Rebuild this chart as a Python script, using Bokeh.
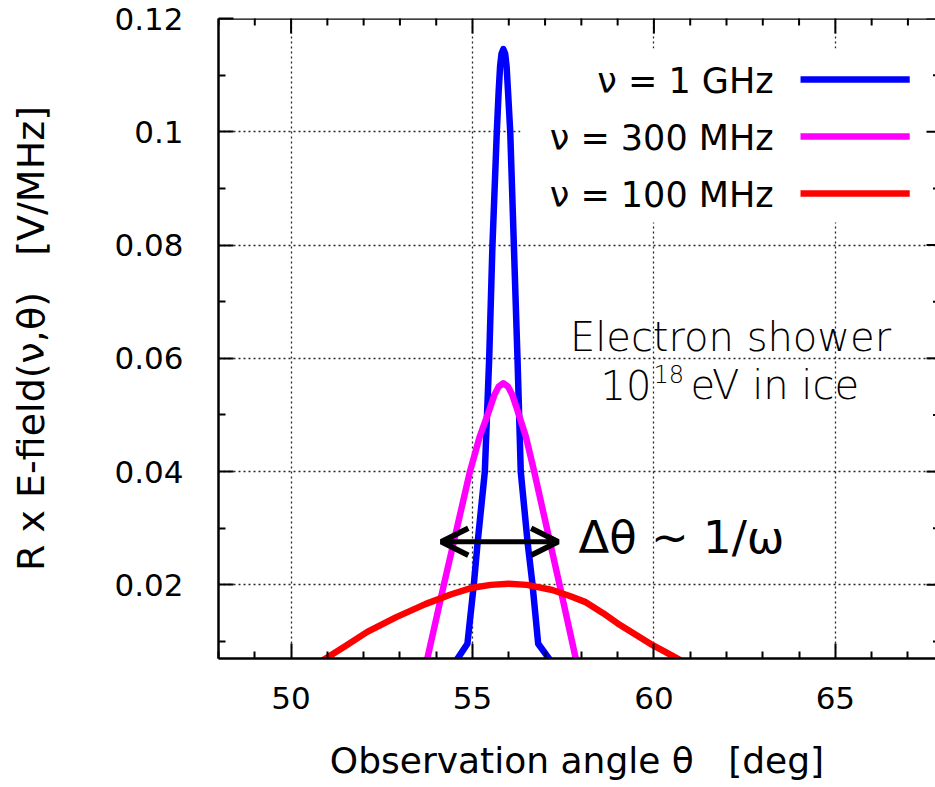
import math

from bokeh.plotting import figure
from bokeh.models import Range1d, FixedTicker, BoxAnnotation, Arrow, OpenHead, Label, Span
from bokeh.core.properties import value
from bokeh.embed import file_html
from bokeh.resources import INLINE

# Radio emission from a 1e18 eV electron shower in ice, vs observation angle
theta_1ghz = [54.57, 54.86, 55.04, 55.14, 55.34, 55.46, 55.55, 55.67, 55.72, 55.76, 55.80, 55.85,
              55.90, 55.94, 55.98, 56.04, 56.14, 56.24, 56.33, 56.52, 56.65, 56.81, 57.13]
field_1ghz = [0.0068, 0.0096, 0.0203, 0.0274, 0.0400, 0.0600, 0.0800, 0.1000, 0.1070, 0.1115, 0.1138, 0.1146,
              0.1138, 0.1115, 0.1070, 0.1000, 0.0800, 0.0600, 0.0400, 0.0274, 0.0203, 0.0096, 0.0068]

theta_300mhz = [53.72, 54.21, 54.93, 55.20, 55.46, 55.60, 55.72, 55.85, 55.98, 56.10,
                56.24, 56.47, 56.70, 57.40, 57.88]
field_300mhz = [0.0060, 0.0200, 0.0400, 0.0462, 0.0508, 0.0535, 0.0550, 0.0556, 0.0550, 0.0535,
                0.0508, 0.0462, 0.0400, 0.0200, 0.0060]

theta_100mhz = [50.9, 51.5, 52.1, 52.9, 53.7, 54.4, 55.0, 55.5, 56.0, 56.5,
                57.2, 57.7, 58.1, 58.6, 59.0, 59.5, 59.9, 60.3, 60.7]
field_100mhz = [0.0068, 0.0092, 0.0117, 0.0143, 0.0166, 0.0183, 0.0195, 0.0200, 0.0202, 0.0200,
                0.0191, 0.0180, 0.0170, 0.0150, 0.0132, 0.0112, 0.0096, 0.0082, 0.0068]

series_labels = ["\u03bd = 1 GHz", "\u03bd = 300 MHz", "\u03bd = 100 MHz"]
series_colors = ["#0000ff", "#ff00ff", "#ff0000"]

x_major = [50, 55, 60, 65]
x_minor = [48, 49, 51, 52, 53, 54, 56, 57, 58, 59, 61, 62, 63, 64, 66, 67, 68]
y_major = [0.02, 0.04, 0.06, 0.08, 0.1, 0.12]
y_major_labels = ["0.02", "0.04", "0.06", "0.08", "0.1", "0.12"]
y_minor = [0.01, 0.03, 0.05, 0.07, 0.09, 0.11]

FONT = "DejaVu Sans"
LIGHT_FONT = "DejaVu Sans ExtraLight, DejaVu Sans Light, DejaVu Sans"
GAP = "\u00a0\u00a0\u00a0"

p = figure(width=935, height=787,
           x_range=Range1d(48, 67.76), y_range=Range1d(0.007, 0.12),
           output_backend="svg", toolbar_location=None,
           min_border_left=218, min_border_top=18, min_border_right=0, min_border_bottom=129,
           x_axis_label="Observation angle \u03b8" + GAP + "[deg]",
           y_axis_label="R x E-field(\u03bd,\u03b8)" + GAP + "[V/MHz]")
p.outline_line_color = None
p.background_fill_color = "white"
p.border_fill_color = "white"


def style_axis(ax, ticks, minor):
    ax.ticker = FixedTicker(ticks=ticks, minor_ticks=minor)
    ax.axis_line_color = "black"
    ax.axis_line_width = 2.5
    ax.major_tick_line_color = "black"
    ax.minor_tick_line_color = "black"
    ax.major_tick_line_width = 2
    ax.minor_tick_line_width = 2
    ax.major_tick_in = 15
    ax.major_tick_out = 0
    ax.minor_tick_in = 7
    ax.minor_tick_out = 0
    ax.major_label_text_font = FONT
    ax.major_label_text_font_size = "31px"
    ax.major_label_text_color = "black"
    ax.axis_label_text_font = FONT
    ax.axis_label_text_font_style = "normal"
    ax.axis_label_text_color = "black"


xb = p.xaxis[0]
style_axis(xb, x_major, x_minor)
xb.major_label_standoff = 28
xb.axis_label_standoff = 28
xb.axis_label_text_font_size = "36px"

yl = p.yaxis[0]
style_axis(yl, y_major, y_minor)
yl.major_label_overrides = dict(zip(y_major, y_major_labels))
yl.major_label_standoff = 35
yl.axis_label_standoff = 58
yl.axis_label_text_font_size = "38px"

for g in (p.xgrid[0], p.ygrid[0]):
    g.grid_line_color = "black"
    g.grid_line_alpha = 0.85
    g.grid_line_width = 1.3
    g.grid_line_dash = "2 3"
p.xgrid[0].ticker = FixedTicker(ticks=x_major)
p.ygrid[0].ticker = FixedTicker(ticks=y_major)

# opaque key area
key_bg = BoxAnnotation(left=56.32, bottom=0.0840, top=0.1147,
                       fill_color="white", fill_alpha=1.0, line_color=None, level="underlay")
p.add_layout(key_bg)

# top border and mirrored tick marks (markers are clipped at the frame edge)
p.add_layout(Span(location=p.y_range.end, dimension="width", line_color="black", line_width=2.5))
y_top = p.y_range.end
x_right = p.x_range.end
p.scatter(x=x_major, y=[y_top] * len(x_major), marker="dash", angle=math.pi / 2, size=30,
          line_color="black", line_width=2)
p.scatter(x=x_minor, y=[y_top] * len(x_minor), marker="dash", angle=math.pi / 2, size=14,
          line_color="black", line_width=2)
p.scatter(x=[x_right] * len(y_major), y=y_major, marker="dash", size=18,
          line_color="black", line_width=2)
p.scatter(x=[x_right] * len(y_minor), y=y_minor, marker="dash", size=5,
          line_color="black", line_width=2)

curves = [(theta_1ghz, field_1ghz), (theta_300mhz, field_300mhz), (theta_100mhz, field_100mhz)]
for (th, ef), col in zip(curves, series_colors):
    p.line(th, ef, line_color=col, line_width=6.5, line_join="round", line_cap="round")

# key: label on the left, line sample on the right
key_text_y = [0.10900, 0.09894, 0.08887]
key_line_y = [0.10923, 0.09916, 0.08910]
p.text(x=[63.30] * 3, y=key_text_y, text=series_labels,
       text_font=value(FONT), text_font_size=value("35px"), text_color="black",
       text_align="right", text_baseline="alphabetic")
p.segment(x0=[64.04] * 3, x1=[67.05] * 3, y0=key_line_y, y1=key_line_y,
          line_color=series_colors, line_width=6.5)

# angular width arrow and annotation
p.add_layout(Arrow(x_start=54.14, x_end=57.36, y_start=0.0276, y_end=0.0276,
                   line_color="black", line_width=5,
                   start=OpenHead(size=27, line_width=5.5, line_color="black"),
                   end=OpenHead(size=27, line_width=5.5, line_color="black")))
p.add_layout(Label(x=57.92, y=0.02830, text="\u0394\u03b8 ~ 1/\u03c9",
                   text_font=FONT, text_font_size="45px", text_color="black",
                   text_baseline="alphabetic"))

p.add_layout(Label(x=62.11, y=0.06385, text="Electron shower", text_align="center",
                   text_font=LIGHT_FONT, text_font_size="40px", text_color="black",
                   text_baseline="alphabetic"))
p.add_layout(Label(x=58.53, y=0.05537, text="10",
                   text_font=LIGHT_FONT, text_font_size="40px", text_color="black",
                   text_baseline="alphabetic"))
p.add_layout(Label(x=59.99, y=0.05720, text="18",
                   text_font=LIGHT_FONT, text_font_size="24px", text_color="black",
                   text_baseline="alphabetic"))
p.add_layout(Label(x=61.01, y=0.05537, text="eV in ice",
                   text_font=LIGHT_FONT, text_font_size="40px", text_color="black",
                   text_baseline="alphabetic"))

open("out.html", "w").write(file_html(p, INLINE))
